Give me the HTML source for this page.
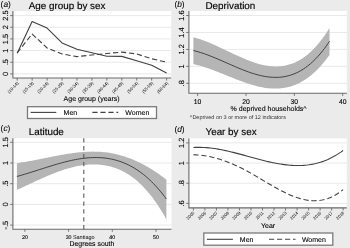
<!DOCTYPE html>
<html><head><meta charset="utf-8"><style>
html,body{margin:0;padding:0;background:#ebebeb;}
svg{display:block;font-family:"Liberation Sans", sans-serif;filter:grayscale(1);text-rendering:geometricPrecision;}
text{stroke:#000000;stroke-width:0.1px;}
</style></head><body>
<svg width="350" height="248" viewBox="0 0 350 248">
<rect x="0" y="0" width="350" height="248" fill="#ebebeb"/>
<rect x="12.9" y="11.0" width="158.30" height="67.00" fill="#fff"/>
<line x1="12.9" x2="171.2" y1="73.9" y2="73.9" stroke="#e9e9e9" stroke-width="1"/>
<line x1="12.9" x2="171.2" y1="62.24000000000001" y2="62.24000000000001" stroke="#e9e9e9" stroke-width="1"/>
<line x1="12.9" x2="171.2" y1="50.580000000000005" y2="50.580000000000005" stroke="#e9e9e9" stroke-width="1"/>
<line x1="12.9" x2="171.2" y1="38.92" y2="38.92" stroke="#e9e9e9" stroke-width="1"/>
<line x1="12.9" x2="171.2" y1="27.260000000000005" y2="27.260000000000005" stroke="#e9e9e9" stroke-width="1"/>
<line x1="12.9" x2="171.2" y1="15.600000000000009" y2="15.600000000000009" stroke="#e9e9e9" stroke-width="1"/>
<path d="M17.20,53.30 L32.14,21.50 L47.08,28.10 L62.02,42.90 L76.96,49.30 L91.90,52.80 L106.84,56.20 L121.78,56.40 L136.72,60.80 L151.66,65.30 L166.60,73.00" fill="none" stroke="#404040" stroke-width="1.1" stroke-linejoin="round"/>
<path d="M17.20,52.80 L32.14,34.00 L47.08,48.00 L62.02,53.90 L76.96,56.60 L91.90,55.00 L106.84,53.50 L121.78,52.10 L136.72,54.00 L151.66,58.80 L166.60,62.20" fill="none" stroke="#404040" stroke-width="1.1" stroke-dasharray="5.2 2.8"/>
<path d="M12.9,11.0 L12.9,78.0 L171.2,78.0" fill="none" stroke="#6a6a6a" stroke-width="1.1"/>
<line x1="10.2" x2="12.9" y1="73.9" y2="73.9" stroke="#6a6a6a" stroke-width="0.9"/>
<line x1="10.2" x2="12.9" y1="62.24000000000001" y2="62.24000000000001" stroke="#6a6a6a" stroke-width="0.9"/>
<line x1="10.2" x2="12.9" y1="50.580000000000005" y2="50.580000000000005" stroke="#6a6a6a" stroke-width="0.9"/>
<line x1="10.2" x2="12.9" y1="38.92" y2="38.92" stroke="#6a6a6a" stroke-width="0.9"/>
<line x1="10.2" x2="12.9" y1="27.260000000000005" y2="27.260000000000005" stroke="#6a6a6a" stroke-width="0.9"/>
<line x1="10.2" x2="12.9" y1="15.600000000000009" y2="15.600000000000009" stroke="#6a6a6a" stroke-width="0.9"/>
<line x1="17.2" x2="17.2" y1="78.0" y2="80.6" stroke="#6a6a6a" stroke-width="0.9"/>
<line x1="32.14" x2="32.14" y1="78.0" y2="80.6" stroke="#6a6a6a" stroke-width="0.9"/>
<line x1="47.08" x2="47.08" y1="78.0" y2="80.6" stroke="#6a6a6a" stroke-width="0.9"/>
<line x1="62.019999999999996" x2="62.019999999999996" y1="78.0" y2="80.6" stroke="#6a6a6a" stroke-width="0.9"/>
<line x1="76.96" x2="76.96" y1="78.0" y2="80.6" stroke="#6a6a6a" stroke-width="0.9"/>
<line x1="91.9" x2="91.9" y1="78.0" y2="80.6" stroke="#6a6a6a" stroke-width="0.9"/>
<line x1="106.84" x2="106.84" y1="78.0" y2="80.6" stroke="#6a6a6a" stroke-width="0.9"/>
<line x1="121.78" x2="121.78" y1="78.0" y2="80.6" stroke="#6a6a6a" stroke-width="0.9"/>
<line x1="136.72" x2="136.72" y1="78.0" y2="80.6" stroke="#6a6a6a" stroke-width="0.9"/>
<line x1="151.66" x2="151.66" y1="78.0" y2="80.6" stroke="#6a6a6a" stroke-width="0.9"/>
<line x1="166.6" x2="166.6" y1="78.0" y2="80.6" stroke="#6a6a6a" stroke-width="0.9"/>
<text transform="translate(8.0,73.9) rotate(-90)" text-anchor="middle" font-size="7.5" fill="#000000">0</text>
<text transform="translate(8.0,62.24000000000001) rotate(-90)" text-anchor="middle" font-size="7.5" fill="#000000">.5</text>
<text transform="translate(8.0,50.580000000000005) rotate(-90)" text-anchor="middle" font-size="7.5" fill="#000000">1</text>
<text transform="translate(8.0,38.92) rotate(-90)" text-anchor="middle" font-size="7.5" fill="#000000">1.5</text>
<text transform="translate(8.0,27.260000000000005) rotate(-90)" text-anchor="middle" font-size="7.5" fill="#000000">2</text>
<text transform="translate(8.0,15.600000000000009) rotate(-90)" text-anchor="middle" font-size="7.5" fill="#000000">2.5</text>
<text transform="translate(19.0,83.6) rotate(-45)" text-anchor="end" font-size="4.3" fill="#000000" style="stroke-width:0">(10-14)</text>
<text transform="translate(33.94,83.6) rotate(-45)" text-anchor="end" font-size="4.3" fill="#000000" style="stroke-width:0">(15-19)</text>
<text transform="translate(48.879999999999995,83.6) rotate(-45)" text-anchor="end" font-size="4.3" fill="#000000" style="stroke-width:0">(20-24)</text>
<text transform="translate(63.81999999999999,83.6) rotate(-45)" text-anchor="end" font-size="4.3" fill="#000000" style="stroke-width:0">(25-29)</text>
<text transform="translate(78.75999999999999,83.6) rotate(-45)" text-anchor="end" font-size="4.3" fill="#000000" style="stroke-width:0">(30-34)</text>
<text transform="translate(93.7,83.6) rotate(-45)" text-anchor="end" font-size="4.3" fill="#000000" style="stroke-width:0">(35-39)</text>
<text transform="translate(108.64,83.6) rotate(-45)" text-anchor="end" font-size="4.3" fill="#000000" style="stroke-width:0">(40-44)</text>
<text transform="translate(123.58,83.6) rotate(-45)" text-anchor="end" font-size="4.3" fill="#000000" style="stroke-width:0">(45-49)</text>
<text transform="translate(138.52,83.6) rotate(-45)" text-anchor="end" font-size="4.3" fill="#000000" style="stroke-width:0">(50-54)</text>
<text transform="translate(153.46,83.6) rotate(-45)" text-anchor="end" font-size="4.3" fill="#000000" style="stroke-width:0">(55-59)</text>
<text transform="translate(168.4,83.6) rotate(-45)" text-anchor="end" font-size="4.3" fill="#000000" style="stroke-width:0">(60-64)</text>
<rect x="188.9" y="11.0" width="158.00" height="82.30" fill="#fff"/>
<line x1="188.9" x2="346.9" y1="83.3" y2="83.3" stroke="#e9e9e9" stroke-width="1"/>
<line x1="188.9" x2="346.9" y1="66.35" y2="66.35" stroke="#e9e9e9" stroke-width="1"/>
<line x1="188.9" x2="346.9" y1="49.4" y2="49.4" stroke="#e9e9e9" stroke-width="1"/>
<line x1="188.9" x2="346.9" y1="32.45" y2="32.45" stroke="#e9e9e9" stroke-width="1"/>
<line x1="188.9" x2="346.9" y1="15.5" y2="15.5" stroke="#e9e9e9" stroke-width="1"/>
<path d="M193.40,37.33 L195.12,37.78 L196.85,38.27 L198.57,38.79 L200.29,39.35 L202.01,39.94 L203.74,40.55 L205.46,41.20 L207.18,41.87 L208.91,42.57 L210.63,43.29 L212.35,44.03 L214.07,44.78 L215.80,45.56 L217.52,46.34 L219.24,47.14 L220.96,47.95 L222.69,48.76 L224.41,49.58 L226.13,50.40 L227.86,51.23 L229.58,52.05 L231.30,52.87 L233.02,53.68 L234.75,54.49 L236.47,55.29 L238.19,56.08 L239.92,56.86 L241.64,57.62 L243.36,58.36 L245.08,59.08 L246.81,59.78 L248.53,60.46 L250.25,61.12 L251.97,61.74 L253.70,62.34 L255.42,62.90 L257.14,63.43 L258.87,63.93 L260.59,64.38 L262.31,64.80 L264.03,65.18 L265.76,65.51 L267.48,65.79 L269.20,66.03 L270.93,66.22 L272.65,66.35 L274.37,66.43 L276.09,66.46 L277.82,66.42 L279.54,66.33 L281.26,66.17 L282.98,65.95 L284.71,65.66 L286.43,65.30 L288.15,64.87 L289.88,64.37 L291.60,63.80 L293.32,63.14 L295.04,62.41 L296.77,61.60 L298.49,60.70 L300.21,59.72 L301.94,58.65 L303.66,57.49 L305.38,56.24 L307.10,54.90 L308.83,53.46 L310.55,51.93 L312.27,50.29 L313.99,48.56 L315.72,46.71 L317.44,44.77 L319.16,42.71 L320.89,40.55 L322.61,38.27 L324.33,35.88 L326.05,33.38 L327.78,30.75 L329.50,28.01 L329.50,54.92 L327.78,57.30 L326.05,59.58 L324.33,61.76 L322.61,63.83 L320.89,65.81 L319.16,67.69 L317.44,69.48 L315.72,71.17 L313.99,72.78 L312.27,74.29 L310.55,75.72 L308.83,77.06 L307.10,78.32 L305.38,79.49 L303.66,80.59 L301.94,81.60 L300.21,82.54 L298.49,83.41 L296.77,84.20 L295.04,84.92 L293.32,85.57 L291.60,86.15 L289.88,86.67 L288.15,87.12 L286.43,87.51 L284.71,87.83 L282.98,88.10 L281.26,88.31 L279.54,88.47 L277.82,88.57 L276.09,88.62 L274.37,88.62 L272.65,88.57 L270.93,88.47 L269.20,88.33 L267.48,88.14 L265.76,87.92 L264.03,87.65 L262.31,87.34 L260.59,87.00 L258.87,86.63 L257.14,86.22 L255.42,85.78 L253.70,85.31 L251.97,84.81 L250.25,84.29 L248.53,83.74 L246.81,83.17 L245.08,82.59 L243.36,81.98 L241.64,81.35 L239.92,80.71 L238.19,80.06 L236.47,79.39 L234.75,78.72 L233.02,78.04 L231.30,77.35 L229.58,76.65 L227.86,75.95 L226.13,75.26 L224.41,74.56 L222.69,73.86 L220.96,73.17 L219.24,72.49 L217.52,71.81 L215.80,71.14 L214.07,70.48 L212.35,69.84 L210.63,69.21 L208.91,68.60 L207.18,68.00 L205.46,67.43 L203.74,66.88 L202.01,66.35 L200.29,65.84 L198.57,65.37 L196.85,64.92 L195.12,64.50 L193.40,64.12 Z" fill="#b5b5b5"/>
<path d="M193.40,50.57 L195.12,50.99 L196.85,51.44 L198.57,51.93 L200.29,52.45 L202.01,53.00 L203.74,53.57 L205.46,54.17 L207.18,54.80 L208.91,55.45 L210.63,56.11 L212.35,56.80 L214.07,57.50 L215.80,58.21 L217.52,58.94 L219.24,59.68 L220.96,60.43 L222.69,61.18 L224.41,61.94 L226.13,62.70 L227.86,63.46 L229.58,64.22 L231.30,64.98 L233.02,65.73 L234.75,66.47 L236.47,67.21 L238.19,67.94 L239.92,68.65 L241.64,69.35 L243.36,70.03 L245.08,70.70 L246.81,71.34 L248.53,71.97 L250.25,72.57 L251.97,73.14 L253.70,73.68 L255.42,74.20 L257.14,74.68 L258.87,75.13 L260.59,75.55 L262.31,75.93 L264.03,76.27 L265.76,76.56 L267.48,76.82 L269.20,77.03 L270.93,77.19 L272.65,77.30 L274.37,77.37 L276.09,77.38 L277.82,77.34 L279.54,77.24 L281.26,77.08 L282.98,76.86 L284.71,76.58 L286.43,76.23 L288.15,75.82 L289.88,75.35 L291.60,74.80 L293.32,74.18 L295.04,73.49 L296.77,72.72 L298.49,71.87 L300.21,70.95 L301.94,69.94 L303.66,68.85 L305.38,67.68 L307.10,66.42 L308.83,65.07 L310.55,63.63 L312.27,62.09 L313.99,60.46 L315.72,58.74 L317.44,56.92 L319.16,55.00 L320.89,52.97 L322.61,50.84 L324.33,48.61 L326.05,46.27 L327.78,43.81 L329.50,41.25" fill="none" stroke="#404040" stroke-width="1.0"/>
<path d="M188.9,11.0 L188.9,93.3 L346.9,93.3" fill="none" stroke="#6a6a6a" stroke-width="1.1"/>
<line x1="186.20000000000002" x2="188.9" y1="83.3" y2="83.3" stroke="#6a6a6a" stroke-width="0.9"/>
<line x1="186.20000000000002" x2="188.9" y1="66.35" y2="66.35" stroke="#6a6a6a" stroke-width="0.9"/>
<line x1="186.20000000000002" x2="188.9" y1="49.4" y2="49.4" stroke="#6a6a6a" stroke-width="0.9"/>
<line x1="186.20000000000002" x2="188.9" y1="32.45" y2="32.45" stroke="#6a6a6a" stroke-width="0.9"/>
<line x1="186.20000000000002" x2="188.9" y1="15.5" y2="15.5" stroke="#6a6a6a" stroke-width="0.9"/>
<line x1="197.6" x2="197.6" y1="93.3" y2="95.89999999999999" stroke="#6a6a6a" stroke-width="0.9"/>
<line x1="245.97" x2="245.97" y1="93.3" y2="95.89999999999999" stroke="#6a6a6a" stroke-width="0.9"/>
<line x1="294.34" x2="294.34" y1="93.3" y2="95.89999999999999" stroke="#6a6a6a" stroke-width="0.9"/>
<line x1="342.71" x2="342.71" y1="93.3" y2="95.89999999999999" stroke="#6a6a6a" stroke-width="0.9"/>
<text transform="translate(184.3,83.3) rotate(-90)" text-anchor="middle" font-size="7.5" fill="#000000">.8</text>
<text transform="translate(184.3,66.35) rotate(-90)" text-anchor="middle" font-size="7.5" fill="#000000">1</text>
<text transform="translate(184.3,49.4) rotate(-90)" text-anchor="middle" font-size="7.5" fill="#000000">1.2</text>
<text transform="translate(184.3,32.45) rotate(-90)" text-anchor="middle" font-size="7.5" fill="#000000">1.4</text>
<text transform="translate(184.3,15.5) rotate(-90)" text-anchor="middle" font-size="7.5" fill="#000000">1.6</text>
<text x="197.6" y="104.0" text-anchor="middle" font-size="6.8" fill="#000000">10</text>
<text x="245.97" y="104.0" text-anchor="middle" font-size="6.8" fill="#000000">20</text>
<text x="294.34" y="104.0" text-anchor="middle" font-size="6.8" fill="#000000">30</text>
<text x="342.71" y="104.0" text-anchor="middle" font-size="6.8" fill="#000000">40</text>
<rect x="12.9" y="138.2" width="158.60" height="91.00" fill="#fff"/>
<line x1="12.9" x2="171.5" y1="225.1" y2="225.1" stroke="#e9e9e9" stroke-width="1"/>
<line x1="12.9" x2="171.5" y1="204.4" y2="204.4" stroke="#e9e9e9" stroke-width="1"/>
<line x1="12.9" x2="171.5" y1="183.7" y2="183.7" stroke="#e9e9e9" stroke-width="1"/>
<line x1="12.9" x2="171.5" y1="163.0" y2="163.0" stroke="#e9e9e9" stroke-width="1"/>
<line x1="12.9" x2="171.5" y1="142.3" y2="142.3" stroke="#e9e9e9" stroke-width="1"/>
<path d="M16.90,163.17 L18.79,162.91 L20.68,162.62 L22.58,162.32 L24.47,162.01 L26.36,161.68 L28.25,161.35 L30.15,161.00 L32.04,160.65 L33.93,160.29 L35.82,159.92 L37.72,159.54 L39.61,159.17 L41.50,158.79 L43.39,158.40 L45.29,158.02 L47.18,157.64 L49.07,157.26 L50.96,156.88 L52.86,156.51 L54.75,156.14 L56.64,155.77 L58.53,155.42 L60.43,155.07 L62.32,154.74 L64.21,154.41 L66.10,154.10 L67.99,153.80 L69.89,153.51 L71.78,153.24 L73.67,152.99 L75.56,152.75 L77.46,152.53 L79.35,152.34 L81.24,152.16 L83.13,152.01 L85.03,151.88 L86.92,151.77 L88.81,151.69 L90.70,151.64 L92.60,151.62 L94.49,151.63 L96.38,151.66 L98.27,151.73 L100.17,151.83 L102.06,151.97 L103.95,152.14 L105.84,152.35 L107.74,152.59 L109.63,152.87 L111.52,153.20 L113.41,153.56 L115.31,153.96 L117.20,154.40 L119.09,154.88 L120.98,155.41 L122.87,155.97 L124.77,156.57 L126.66,157.21 L128.55,157.89 L130.44,158.61 L132.34,159.37 L134.23,160.17 L136.12,161.00 L138.01,161.88 L139.91,162.80 L141.80,163.75 L143.69,164.74 L145.58,165.78 L147.48,166.85 L149.37,167.96 L151.26,169.11 L153.15,170.29 L155.05,171.52 L156.94,172.78 L158.83,174.09 L160.72,175.43 L162.62,176.81 L164.51,178.22 L166.40,179.68 L166.40,219.38 L164.51,216.01 L162.62,212.78 L160.72,209.68 L158.83,206.70 L156.94,203.85 L155.05,201.13 L153.15,198.52 L151.26,196.03 L149.37,193.66 L147.48,191.41 L145.58,189.26 L143.69,187.23 L141.80,185.30 L139.91,183.47 L138.01,181.74 L136.12,180.12 L134.23,178.59 L132.34,177.15 L130.44,175.81 L128.55,174.55 L126.66,173.38 L124.77,172.29 L122.87,171.29 L120.98,170.36 L119.09,169.52 L117.20,168.74 L115.31,168.04 L113.41,167.41 L111.52,166.84 L109.63,166.34 L107.74,165.90 L105.84,165.52 L103.95,165.19 L102.06,164.93 L100.17,164.72 L98.27,164.57 L96.38,164.47 L94.49,164.43 L92.60,164.43 L90.70,164.48 L88.81,164.59 L86.92,164.73 L85.03,164.93 L83.13,165.16 L81.24,165.44 L79.35,165.76 L77.46,166.12 L75.56,166.52 L73.67,166.95 L71.78,167.42 L69.89,167.92 L67.99,168.45 L66.10,169.02 L64.21,169.61 L62.32,170.24 L60.43,170.89 L58.53,171.56 L56.64,172.26 L54.75,172.98 L52.86,173.73 L50.96,174.49 L49.07,175.27 L47.18,176.07 L45.29,176.88 L43.39,177.70 L41.50,178.54 L39.61,179.40 L37.72,180.26 L35.82,181.12 L33.93,182.00 L32.04,182.88 L30.15,183.77 L28.25,184.66 L26.36,185.54 L24.47,186.43 L22.58,187.32 L20.68,188.21 L18.79,189.09 L16.90,189.96 Z" fill="#b5b5b5"/>
<path d="M16.90,176.45 L18.79,175.94 L20.68,175.41 L22.58,174.86 L24.47,174.31 L26.36,173.74 L28.25,173.16 L30.15,172.58 L32.04,171.98 L33.93,171.38 L35.82,170.78 L37.72,170.17 L39.61,169.57 L41.50,168.96 L43.39,168.35 L45.29,167.75 L47.18,167.15 L49.07,166.55 L50.96,165.97 L52.86,165.39 L54.75,164.82 L56.64,164.26 L58.53,163.71 L60.43,163.18 L62.32,162.66 L64.21,162.16 L66.10,161.68 L67.99,161.21 L69.89,160.77 L71.78,160.35 L73.67,159.95 L75.56,159.58 L77.46,159.24 L79.35,158.92 L81.24,158.63 L83.13,158.37 L85.03,158.15 L86.92,157.95 L88.81,157.79 L90.70,157.67 L92.60,157.59 L94.49,157.54 L96.38,157.54 L98.27,157.57 L100.17,157.65 L102.06,157.78 L103.95,157.95 L105.84,158.17 L107.74,158.43 L109.63,158.75 L111.52,159.12 L113.41,159.54 L115.31,160.01 L117.20,160.54 L119.09,161.13 L120.98,161.78 L122.87,162.48 L124.77,163.25 L126.66,164.08 L128.55,164.98 L130.44,165.94 L132.34,166.97 L134.23,168.07 L136.12,169.24 L138.01,170.49 L139.91,171.81 L141.80,173.20 L143.69,174.67 L145.58,176.23 L147.48,177.86 L149.37,179.58 L151.26,181.38 L153.15,183.27 L155.05,185.25 L156.94,187.31 L158.83,189.47 L160.72,191.72 L162.62,194.06 L164.51,196.50 L166.40,199.04" fill="none" stroke="#404040" stroke-width="1.0"/>
<line x1="83.8" x2="83.8" y1="138.2" y2="231.7" stroke="#5a5a5a" stroke-width="1.1" stroke-dasharray="4.3 3.6"/>
<path d="M12.9,138.2 L12.9,229.2 L171.5,229.2" fill="none" stroke="#6a6a6a" stroke-width="1.1"/>
<line x1="10.2" x2="12.9" y1="225.1" y2="225.1" stroke="#6a6a6a" stroke-width="0.9"/>
<line x1="10.2" x2="12.9" y1="204.4" y2="204.4" stroke="#6a6a6a" stroke-width="0.9"/>
<line x1="10.2" x2="12.9" y1="183.7" y2="183.7" stroke="#6a6a6a" stroke-width="0.9"/>
<line x1="10.2" x2="12.9" y1="163.0" y2="163.0" stroke="#6a6a6a" stroke-width="0.9"/>
<line x1="10.2" x2="12.9" y1="142.3" y2="142.3" stroke="#6a6a6a" stroke-width="0.9"/>
<line x1="24.9" x2="24.9" y1="229.2" y2="231.79999999999998" stroke="#6a6a6a" stroke-width="0.9"/>
<line x1="68.6" x2="68.6" y1="229.2" y2="231.79999999999998" stroke="#6a6a6a" stroke-width="0.9"/>
<line x1="112.30000000000001" x2="112.30000000000001" y1="229.2" y2="231.79999999999998" stroke="#6a6a6a" stroke-width="0.9"/>
<line x1="156.00000000000003" x2="156.00000000000003" y1="229.2" y2="231.79999999999998" stroke="#6a6a6a" stroke-width="0.9"/>
<text transform="translate(8.0,225.1) rotate(-90)" text-anchor="middle" font-size="7.5" fill="#000000">-.5</text>
<text transform="translate(8.0,204.4) rotate(-90)" text-anchor="middle" font-size="7.5" fill="#000000">0</text>
<text transform="translate(8.0,183.7) rotate(-90)" text-anchor="middle" font-size="7.5" fill="#000000">.5</text>
<text transform="translate(8.0,163.0) rotate(-90)" text-anchor="middle" font-size="7.5" fill="#000000">1</text>
<text transform="translate(8.0,142.3) rotate(-90)" text-anchor="middle" font-size="7.5" fill="#000000">1.5</text>
<text x="24.9" y="238.6" text-anchor="middle" font-size="5.3" fill="#000000">20</text>
<text x="68.6" y="238.6" text-anchor="middle" font-size="5.3" fill="#000000">30</text>
<text x="112.30000000000001" y="238.6" text-anchor="middle" font-size="5.3" fill="#000000">40</text>
<text x="156.00000000000003" y="238.6" text-anchor="middle" font-size="5.3" fill="#000000">50</text>
<text x="72.9" y="238.6" font-size="5.5" fill="#000000" style="stroke-width:0">Santiago</text>
<rect x="188.9" y="138.4" width="157.90" height="69.50" fill="#fff"/>
<line x1="188.9" x2="346.8" y1="203.4" y2="203.4" stroke="#e9e9e9" stroke-width="1"/>
<line x1="188.9" x2="346.8" y1="183.23000000000002" y2="183.23000000000002" stroke="#e9e9e9" stroke-width="1"/>
<line x1="188.9" x2="346.8" y1="163.06" y2="163.06" stroke="#e9e9e9" stroke-width="1"/>
<line x1="188.9" x2="346.8" y1="142.89" y2="142.89" stroke="#e9e9e9" stroke-width="1"/>
<path d="M193.40,147.51 L195.29,147.41 L197.19,147.36 L199.08,147.34 L200.98,147.36 L202.87,147.43 L204.77,147.53 L206.66,147.66 L208.56,147.83 L210.45,148.03 L212.35,148.26 L214.24,148.52 L216.14,148.81 L218.03,149.12 L219.93,149.46 L221.82,149.83 L223.72,150.21 L225.61,150.61 L227.51,151.03 L229.40,151.47 L231.30,151.93 L233.19,152.39 L235.09,152.87 L236.98,153.36 L238.88,153.86 L240.77,154.37 L242.67,154.89 L244.56,155.40 L246.46,155.93 L248.35,156.45 L250.25,156.97 L252.14,157.49 L254.04,158.01 L255.93,158.52 L257.83,159.03 L259.72,159.53 L261.62,160.02 L263.51,160.50 L265.41,160.97 L267.30,161.42 L269.20,161.86 L271.09,162.28 L272.99,162.68 L274.88,163.06 L276.78,163.42 L278.67,163.76 L280.57,164.07 L282.46,164.36 L284.36,164.62 L286.25,164.85 L288.15,165.05 L290.04,165.22 L291.94,165.35 L293.83,165.45 L295.73,165.51 L297.62,165.53 L299.52,165.51 L301.41,165.45 L303.31,165.35 L305.20,165.20 L307.10,165.01 L308.99,164.77 L310.89,164.47 L312.78,164.13 L314.68,163.74 L316.57,163.29 L318.47,162.79 L320.36,162.23 L322.26,161.61 L324.15,160.93 L326.05,160.19 L327.94,159.39 L329.84,158.52 L331.73,157.59 L333.63,156.59 L335.52,155.52 L337.42,154.38 L339.31,153.16 L341.21,151.88 L343.10,150.51" fill="none" stroke="#404040" stroke-width="1.1"/>
<path d="M193.40,154.80 L195.29,154.84 L197.19,154.93 L199.08,155.06 L200.98,155.24 L202.87,155.46 L204.77,155.73 L206.66,156.03 L208.56,156.38 L210.45,156.77 L212.35,157.20 L214.24,157.66 L216.14,158.17 L218.03,158.71 L219.93,159.29 L221.82,159.91 L223.72,160.56 L225.61,161.24 L227.51,161.96 L229.40,162.71 L231.30,163.49 L233.19,164.30 L235.09,165.14 L236.98,166.01 L238.88,166.91 L240.77,167.84 L242.67,168.79 L244.56,169.77 L246.46,170.78 L248.35,171.81 L250.25,172.86 L252.14,173.93 L254.04,175.02 L255.93,176.13 L257.83,177.24 L259.72,178.37 L261.62,179.50 L263.51,180.63 L265.41,181.75 L267.30,182.88 L269.20,184.00 L271.09,185.10 L272.99,186.20 L274.88,187.27 L276.78,188.33 L278.67,189.37 L280.57,190.38 L282.46,191.36 L284.36,192.31 L286.25,193.22 L288.15,194.10 L290.04,194.93 L291.94,195.72 L293.83,196.47 L295.73,197.17 L297.62,197.81 L299.52,198.39 L301.41,198.92 L303.31,199.39 L305.20,199.79 L307.10,200.12 L308.99,200.39 L310.89,200.58 L312.78,200.69 L314.68,200.72 L316.57,200.67 L318.47,200.54 L320.36,200.31 L322.26,200.00 L324.15,199.59 L326.05,199.08 L327.94,198.47 L329.84,197.76 L331.73,196.95 L333.63,196.02 L335.52,194.98 L337.42,193.82 L339.31,192.55 L341.21,191.15 L343.10,189.64" fill="none" stroke="#404040" stroke-width="1.1" stroke-dasharray="5.2 2.8"/>
<path d="M188.9,138.4 L188.9,207.9 L346.8,207.9" fill="none" stroke="#6a6a6a" stroke-width="1.1"/>
<line x1="186.20000000000002" x2="188.9" y1="203.4" y2="203.4" stroke="#6a6a6a" stroke-width="0.9"/>
<line x1="186.20000000000002" x2="188.9" y1="183.23000000000002" y2="183.23000000000002" stroke="#6a6a6a" stroke-width="0.9"/>
<line x1="186.20000000000002" x2="188.9" y1="163.06" y2="163.06" stroke="#6a6a6a" stroke-width="0.9"/>
<line x1="186.20000000000002" x2="188.9" y1="142.89" y2="142.89" stroke="#6a6a6a" stroke-width="0.9"/>
<line x1="193.4" x2="193.4" y1="207.9" y2="210.5" stroke="#6a6a6a" stroke-width="0.9"/>
<line x1="204.92000000000002" x2="204.92000000000002" y1="207.9" y2="210.5" stroke="#6a6a6a" stroke-width="0.9"/>
<line x1="216.44" x2="216.44" y1="207.9" y2="210.5" stroke="#6a6a6a" stroke-width="0.9"/>
<line x1="227.96" x2="227.96" y1="207.9" y2="210.5" stroke="#6a6a6a" stroke-width="0.9"/>
<line x1="239.48000000000002" x2="239.48000000000002" y1="207.9" y2="210.5" stroke="#6a6a6a" stroke-width="0.9"/>
<line x1="251.0" x2="251.0" y1="207.9" y2="210.5" stroke="#6a6a6a" stroke-width="0.9"/>
<line x1="262.52" x2="262.52" y1="207.9" y2="210.5" stroke="#6a6a6a" stroke-width="0.9"/>
<line x1="274.04" x2="274.04" y1="207.9" y2="210.5" stroke="#6a6a6a" stroke-width="0.9"/>
<line x1="285.56" x2="285.56" y1="207.9" y2="210.5" stroke="#6a6a6a" stroke-width="0.9"/>
<line x1="297.08" x2="297.08" y1="207.9" y2="210.5" stroke="#6a6a6a" stroke-width="0.9"/>
<line x1="308.6" x2="308.6" y1="207.9" y2="210.5" stroke="#6a6a6a" stroke-width="0.9"/>
<line x1="320.12" x2="320.12" y1="207.9" y2="210.5" stroke="#6a6a6a" stroke-width="0.9"/>
<line x1="331.64" x2="331.64" y1="207.9" y2="210.5" stroke="#6a6a6a" stroke-width="0.9"/>
<line x1="343.15999999999997" x2="343.15999999999997" y1="207.9" y2="210.5" stroke="#6a6a6a" stroke-width="0.9"/>
<text transform="translate(184.3,203.4) rotate(-90)" text-anchor="middle" font-size="7.5" fill="#000000">.6</text>
<text transform="translate(184.3,183.23000000000002) rotate(-90)" text-anchor="middle" font-size="7.5" fill="#000000">.8</text>
<text transform="translate(184.3,163.06) rotate(-90)" text-anchor="middle" font-size="7.5" fill="#000000">1</text>
<text transform="translate(184.3,142.89) rotate(-90)" text-anchor="middle" font-size="7.5" fill="#000000">1.2</text>
<text transform="translate(194.8,213.2) rotate(-45)" text-anchor="end" font-size="4.3" fill="#000000" style="stroke-width:0">2005</text>
<text transform="translate(206.32000000000002,213.2) rotate(-45)" text-anchor="end" font-size="4.3" fill="#000000" style="stroke-width:0">2006</text>
<text transform="translate(217.84,213.2) rotate(-45)" text-anchor="end" font-size="4.3" fill="#000000" style="stroke-width:0">2007</text>
<text transform="translate(229.36,213.2) rotate(-45)" text-anchor="end" font-size="4.3" fill="#000000" style="stroke-width:0">2008</text>
<text transform="translate(240.88000000000002,213.2) rotate(-45)" text-anchor="end" font-size="4.3" fill="#000000" style="stroke-width:0">2009</text>
<text transform="translate(252.4,213.2) rotate(-45)" text-anchor="end" font-size="4.3" fill="#000000" style="stroke-width:0">2010</text>
<text transform="translate(263.91999999999996,213.2) rotate(-45)" text-anchor="end" font-size="4.3" fill="#000000" style="stroke-width:0">2011</text>
<text transform="translate(275.44,213.2) rotate(-45)" text-anchor="end" font-size="4.3" fill="#000000" style="stroke-width:0">2012</text>
<text transform="translate(286.96,213.2) rotate(-45)" text-anchor="end" font-size="4.3" fill="#000000" style="stroke-width:0">2013</text>
<text transform="translate(298.47999999999996,213.2) rotate(-45)" text-anchor="end" font-size="4.3" fill="#000000" style="stroke-width:0">2014</text>
<text transform="translate(310.0,213.2) rotate(-45)" text-anchor="end" font-size="4.3" fill="#000000" style="stroke-width:0">2015</text>
<text transform="translate(321.52,213.2) rotate(-45)" text-anchor="end" font-size="4.3" fill="#000000" style="stroke-width:0">2016</text>
<text transform="translate(333.03999999999996,213.2) rotate(-45)" text-anchor="end" font-size="4.3" fill="#000000" style="stroke-width:0">2017</text>
<text transform="translate(344.55999999999995,213.2) rotate(-45)" text-anchor="end" font-size="4.3" fill="#000000" style="stroke-width:0">2018</text>
<text x="0.6" y="6.5" font-size="8.4" fill="#000000" style="stroke-width:0.08px">(<tspan font-style="italic">a</tspan>)</text>
<text x="28.8" y="8.5" font-size="9.85" fill="#000000" style="stroke-width:0.15px">Age group by sex</text>
<text x="174.4" y="6.5" font-size="8.4" fill="#000000" style="stroke-width:0.08px">(<tspan font-style="italic">b</tspan>)</text>
<text x="205.5" y="8.5" font-size="9.85" fill="#000000" style="stroke-width:0.15px">Deprivation</text>
<text x="0.6" y="131.4" font-size="8.4" fill="#000000" style="stroke-width:0.08px">(<tspan font-style="italic">c</tspan>)</text>
<text x="28.8" y="134.9" font-size="9.85" fill="#000000" style="stroke-width:0.15px">Latitude</text>
<text x="174.4" y="131.5" font-size="8.4" fill="#000000" style="stroke-width:0.08px">(<tspan font-style="italic">d</tspan>)</text>
<text x="205.5" y="134.7" font-size="9.85" fill="#000000" style="stroke-width:0.15px">Year by sex</text>
<text x="63.6" y="101.1" font-size="7" fill="#000000">Age group (years)</text>
<text x="230.6" y="110.9" font-size="7" fill="#000000">% deprived households^</text>
<text x="189.8" y="119.4" font-size="5.5" fill="#333" style="stroke-width:0">^Deprived on 3 or more of 12 indicators</text>
<text x="69.5" y="245.8" font-size="6.9" fill="#000000">Degrees south</text>
<text x="261.0" y="227.7" font-size="7" fill="#000000">Year</text>
<rect x="27.5" y="106.7" width="129" height="11.8" fill="#fff" stroke="#7a7a7a" stroke-width="1.3"/>
<line x1="30.6" x2="56.3" y1="112.4" y2="112.4" stroke="#404040" stroke-width="1.1"/>
<text x="63.6" y="115.2" font-size="7" fill="#000000">Men</text>
<line x1="92.4" x2="118.2" y1="112.4" y2="112.4" stroke="#404040" stroke-width="1.1" stroke-dasharray="5.2 2.8"/>
<text x="125.3" y="115.2" font-size="7" fill="#000000">Women</text>
<rect x="203.8" y="233.0" width="129" height="12.2" fill="#fff" stroke="#7a7a7a" stroke-width="1.3"/>
<line x1="206.9" x2="232.9" y1="239.3" y2="239.3" stroke="#404040" stroke-width="1.1"/>
<text x="239.8" y="241.8" font-size="7" fill="#000000">Men</text>
<line x1="269" x2="295.5" y1="239.3" y2="239.3" stroke="#404040" stroke-width="1.1" stroke-dasharray="5.2 2.8"/>
<text x="301.9" y="241.8" font-size="7" fill="#000000">Women</text>
</svg>
</body></html>
